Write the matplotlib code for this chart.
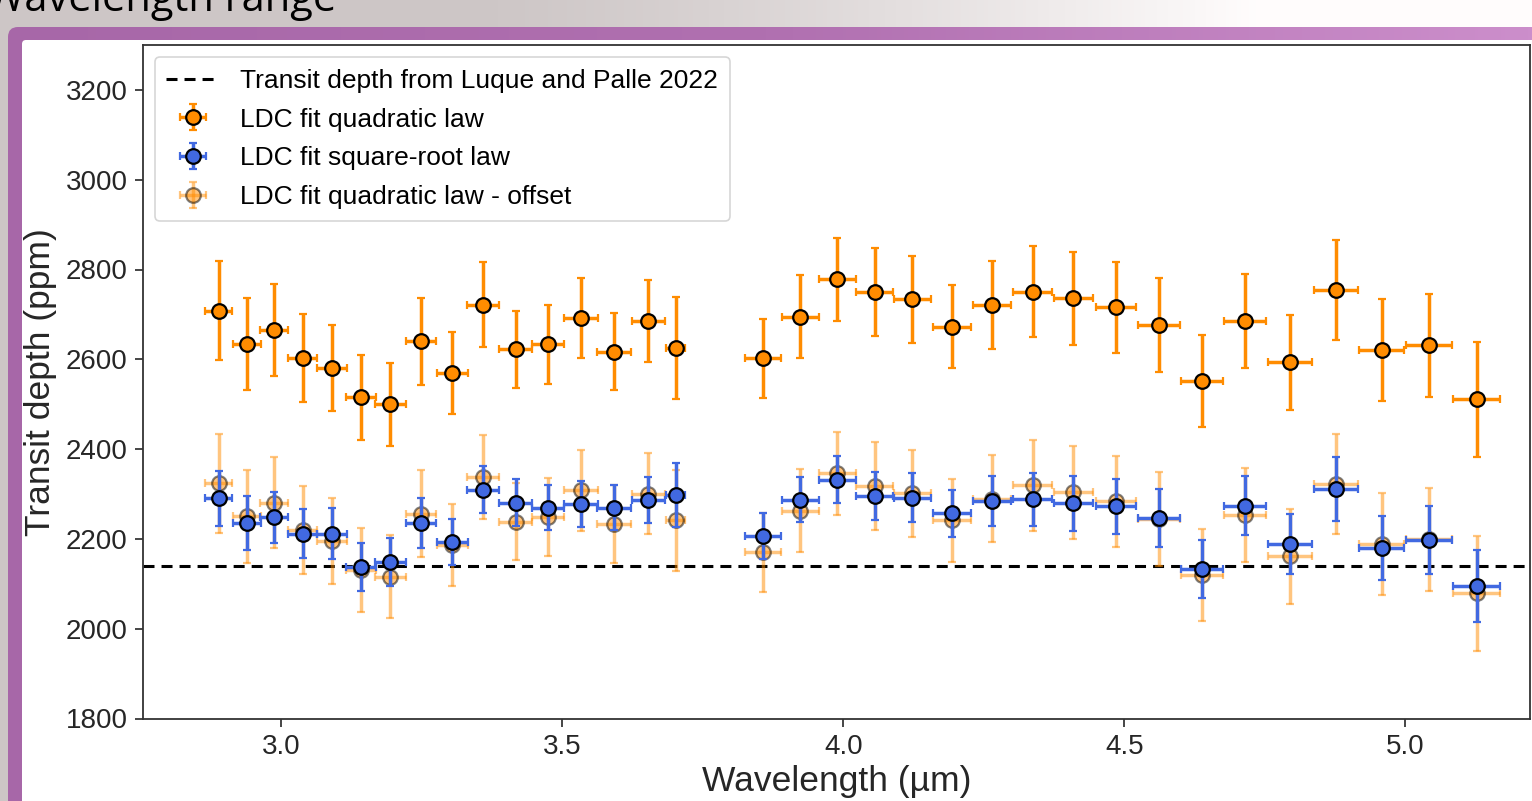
import numpy as np
import matplotlib
matplotlib.use("Agg")
import matplotlib.pyplot as plt
from matplotlib.patches import FancyBboxPatch
from matplotlib.colors import to_rgb

plt.rcParams['font.family'] = ['Liberation Sans', 'DejaVu Sans']

# wavelength bin centres and half widths (um)
wave = [2.888, 2.938, 2.987, 3.038, 3.090, 3.142, 3.194, 3.248, 3.304, 3.359,
        3.417, 3.474, 3.533, 3.592, 3.653, 3.702,
        3.857, 3.923, 3.989, 4.056, 4.123, 4.194, 4.265, 4.337, 4.409, 4.485,
        4.562, 4.638, 4.715, 4.795, 4.877, 4.958, 5.042, 5.127]
wave_err = [0.024, 0.025, 0.025, 0.026, 0.026, 0.027, 0.027, 0.027, 0.028, 0.028,
            0.029, 0.029, 0.030, 0.030, 0.030, 0.017,
            0.032, 0.033, 0.033, 0.033, 0.033, 0.034, 0.034, 0.035, 0.035, 0.036,
            0.037, 0.037, 0.038, 0.039, 0.039, 0.040, 0.041, 0.042]

# LDC fit quadratic law (ppm)
quad = [2708, 2634, 2665, 2603, 2580, 2515, 2500, 2640, 2570, 2722,
        2622, 2633, 2692, 2617, 2685, 2625,
        2602, 2695, 2778, 2750, 2734, 2673, 2721, 2751, 2736, 2716,
        2676, 2552, 2685, 2593, 2754, 2621, 2631, 2511]
quad_err = [110, 103, 102, 98, 96, 94, 92, 97, 91, 94,
            86, 87, 90, 86, 91, 113,
            88, 93, 93, 98, 97, 93, 97, 102, 104, 101,
            104, 103, 105, 106, 111, 113, 114, 128]

# LDC fit square-root law (ppm)
sqrt_law = [2290, 2236, 2248, 2212, 2212, 2137, 2148, 2235, 2193, 2310,
            2281, 2269, 2278, 2269, 2287, 2298,
            2206, 2287, 2332, 2295, 2292, 2257, 2284, 2288, 2279, 2273,
            2247, 2133, 2274, 2189, 2311, 2180, 2198, 2096]
sqrt_err = [61, 60, 57, 55, 56, 54, 53, 55, 51, 53,
            52, 50, 51, 50, 51, 72,
            51, 50, 53, 53, 55, 53, 55, 59, 62, 61,
            64, 65, 65, 67, 71, 72, 76, 80]

# offsets applied to the quadratic law per detector (NRS1: first 16 bins, NRS2: rest)
n_nrs1 = 16
offset_nrs1 = 384
offset_nrs2 = 432
quad_offset = ([q - offset_nrs1 for q in quad[:n_nrs1]] +
               [q - offset_nrs2 for q in quad[n_nrs1:]])

lit_depth = 2140

W, H = 1532, 801
fig = plt.figure(figsize=(W / 100, H / 100), dpi=100)

# slide background
bg = fig.add_axes([0, 0, 1, 1], zorder=-10)
bg.axis('off')
gx = np.linspace(0, 1, 400)
grey = np.array(to_rgb('#cdc6c6'))
white = np.array([1.0, 0.99, 0.99])
mix = np.clip((gx - 0.3) / 0.52, 0, 1)[:, None] ** 1.3
grad = (grey * (1 - mix) + white * mix)[None, :, :]
bg.imshow(grad, extent=[0, W, H, 0], aspect='auto', zorder=0)
bg.text(-14, 11, 'Wavelength range', fontsize=30, color='black',
        family=['Open Sans', 'DejaVu Sans'], va='baseline', ha='left', zorder=1)

frame = FancyBboxPatch((8, 27), W + 40, H, boxstyle='round,pad=0,rounding_size=10',
                       facecolor='none', edgecolor='none', zorder=2)
bg.add_patch(frame)
purple = np.array([to_rgb('#a767a8'), to_rgb('#b070b0'), to_rgb('#cc8ecb')])
px = np.linspace(0, 1, 400)
pgrad = np.stack([np.interp(px, [0, 0.5, 1], purple[:, k]) for k in range(3)], axis=-1)[None]
im = bg.imshow(pgrad, extent=[0, W, H, 0], aspect='auto', zorder=2)
im.set_clip_path(frame)
bg.add_patch(FancyBboxPatch((22, 40), W + 40, H, boxstyle='round,pad=0,rounding_size=4',
                            facecolor='white', edgecolor='none', zorder=3))
bg.set_xlim(0, W)
bg.set_ylim(H, 0)

# chart
ax = fig.add_axes([142.7 / W, 1 - 718.5 / H, (1530 - 142.7) / W, (718.5 - 45) / H])
ax.set_facecolor('white')

line = ax.axhline(lit_depth, color='black', ls='--', lw=2.2, dashes=(3.6, 2.3),
                  label='Transit depth from Luque and Palle 2022', zorder=1)

eb_kw = dict(fmt='o', ms=10.5, mec='black', mew=1.6, elinewidth=2.5, capsize=2.8, capthick=2)
h_quad = ax.errorbar(wave, quad, yerr=quad_err, xerr=wave_err, color='darkorange',
                     mfc='darkorange', ecolor='darkorange', label='LDC fit quadratic law',
                     zorder=3, **eb_kw)
h_sqrt = ax.errorbar(wave, sqrt_law, yerr=sqrt_err, xerr=wave_err, color='royalblue',
                     mfc='royalblue', ecolor='royalblue', label='LDC fit square-root law',
                     zorder=3, **eb_kw)
h_off = ax.errorbar(wave, quad_offset, yerr=quad_err, xerr=wave_err, color='darkorange',
                    mfc='darkorange', ecolor='darkorange', alpha=0.5,
                    label='LDC fit quadratic law - offset', zorder=2, **eb_kw)

ax.set_xlim(2.753, 5.222)
ax.set_ylim(1800, 3300)
ax.set_yticks(np.arange(1800, 3201, 200))
ax.set_xticks([3.0, 3.5, 4.0, 4.5, 5.0])
ax.tick_params(labelsize=20, length=6, width=1.2, colors='#262626', pad=5)
for s in ax.spines.values():
    s.set_color('#333333')
    s.set_linewidth(1.3)

ax.set_xlabel('Wavelength (µm)', fontsize=25.5, color='#262626', labelpad=4)
ax.set_ylabel('Transit depth (ppm)', fontsize=25.5, color='#262626', labelpad=6)

leg = ax.legend(handles=[line, h_quad, h_sqrt, h_off], loc='upper left',
                fontsize=19, frameon=True, borderpad=0.45, handlelength=2.0,
                labelspacing=0.56, bbox_to_anchor=(0.0, 1.0), borderaxespad=0.45)
leg.get_frame().set_edgecolor('#cccccc')
leg.get_frame().set_linewidth(1.2)

fig.savefig('out.png', dpi=100)
